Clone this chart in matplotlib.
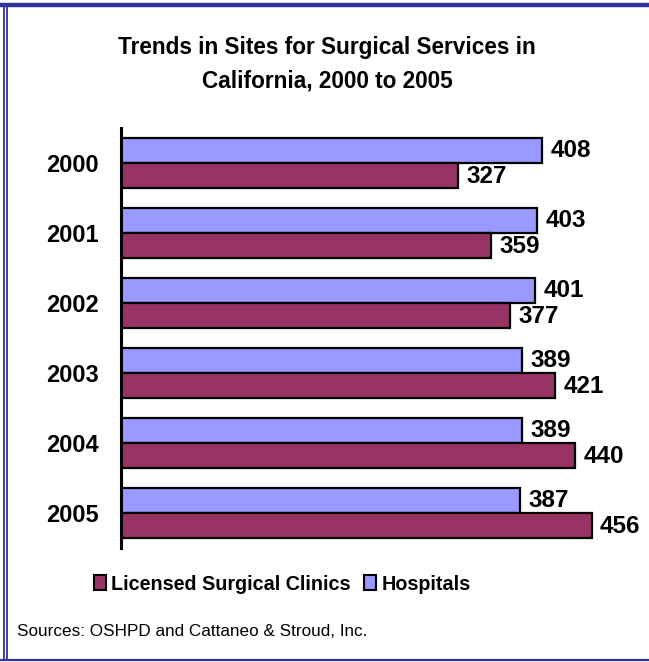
import matplotlib
matplotlib.use("Agg")
import matplotlib.pyplot as plt
from matplotlib.patches import Patch
from matplotlib.lines import Line2D
import numpy as np

years = ["2000", "2001", "2002", "2003", "2004", "2005"]
hospitals = [408, 403, 401, 389, 389, 387]
clinics = [327, 359, 377, 421, 440, 456]

title = "Trends in Sites for Surgical Services in\nCalifornia, 2000 to 2005"
source = "Sources: OSHPD and Cattaneo & Stroud, Inc."

plt.rcParams['font.family'] = ['Liberation Sans', 'DejaVu Sans']

W, H = 649, 662
fig = plt.figure(figsize=(W / 100, H / 100), dpi=100)

c_hosp = "#9999FF"
c_clin = "#993366"
border = "#333399"

ax = fig.add_axes([121 / W, 1 - 548 / H, 516 / W, 420 / H])
y = np.arange(len(years))
bh = 25 / 70
ax.barh(y - bh / 2, hospitals, height=bh, color=c_hosp, edgecolor="black", linewidth=1.6)
ax.barh(y + bh / 2, clinics, height=bh, color=c_clin, edgecolor="black", linewidth=1.6)
ax.set_xlim(0, 500)
ax.set_ylim(len(years) - 0.5, -0.5)
for s in ["top", "right", "bottom"]:
    ax.spines[s].set_visible(False)
ax.spines["left"].set_linewidth(2.2)
ax.set_xticks([])
ax.set_yticks(y)
ax.set_yticklabels(years, fontsize=17, fontweight="bold")
ax.tick_params(axis="y", length=0, pad=16)

for i in range(len(years)):
    ax.annotate(str(hospitals[i]), (hospitals[i], y[i] - bh / 2), xytext=(6, 0),
                textcoords="offset points", ha="left", va="center",
                fontsize=17.5, fontweight="bold")
    ax.annotate(str(clinics[i]), (clinics[i], y[i] + bh / 2), xytext=(6, -1),
                textcoords="offset points", ha="left", va="center",
                fontsize=17.5, fontweight="bold")

fig.text(327 / W, 1 - 64 / H, title, ha="center", va="center", fontsize=16.3,
         fontweight="bold", linespacing=1.6)

handles = [Patch(facecolor=c_clin, edgecolor="black", linewidth=1.5),
           Patch(facecolor=c_hosp, edgecolor="black", linewidth=1.5)]
fig.legend(handles, ["Licensed Surgical Clinics", "Hospitals"], ncol=2,
           loc="center", bbox_to_anchor=(282 / W, 1 - 584 / H), frameon=False,
           prop={"weight": "bold", "size": 14.2}, handlelength=0.62, handleheight=0.8,
           handletextpad=0.25, columnspacing=0.7)

fig.text(17 / W, 1 - 632 / H, source, ha="left", va="center", fontsize=12.3)

# border
fig.add_artist(Line2D([0, 1], [1 - 5 / H, 1 - 5 / H], color=border, linewidth=3.2,
                      transform=fig.transFigure))
fig.add_artist(Line2D([0, 1], [1 - 659.5 / H, 1 - 659.5 / H], color=border, linewidth=1.6,
                      transform=fig.transFigure))
for xv in [3.8, 7.0]:
    fig.add_artist(Line2D([xv / W, xv / W], [1 - 660 / H, 1 - 4 / H], color=border,
                          linewidth=1.3, transform=fig.transFigure))

fig.savefig("out.png", dpi=100)
